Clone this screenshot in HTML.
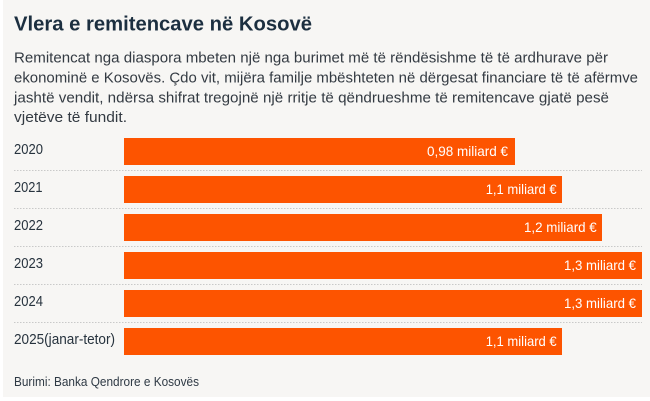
<!DOCTYPE html>
<html><head><meta charset="utf-8">
<style>
html,body{margin:0;padding:0;background:#ffffff;}
svg{display:block;}
text{font-family:"Liberation Sans","DejaVu Sans",sans-serif;}
</style></head>
<body>
<svg width="650" height="401" viewBox="0 0 650 401" xmlns="http://www.w3.org/2000/svg">
<rect x="0" y="0" width="650" height="401" fill="#ffffff"/>
<rect x="3" y="0" width="647" height="397" fill="#f7f6f4"/>
<text x="14" y="30.5" font-size="20" font-weight="bold" fill="#1c2f40" textLength="298" lengthAdjust="spacingAndGlyphs">Vlera e remitencave në Kosovë</text>
<g font-size="15" fill="#333a42">
<text x="14" y="62.5" textLength="594" lengthAdjust="spacingAndGlyphs">Remitencat nga diaspora mbeten një nga burimet më të rëndësishme të të ardhurave për</text>
<text x="14" y="82.5" textLength="624" lengthAdjust="spacingAndGlyphs">ekonominë e Kosovës. Çdo vit, mijëra familje mbështeten në dërgesat financiare të të afërmve</text>
<text x="14" y="102.5" textLength="595" lengthAdjust="spacingAndGlyphs">jashtë vendit, ndërsa shifrat tregojnë një rritje të qëndrueshme të remitencave gjatë pesë</text>
<text x="14" y="122" textLength="113" lengthAdjust="spacingAndGlyphs">vjetëve të fundit.</text>
</g>
<g stroke="#c9c9c9" stroke-width="1" stroke-dasharray="1.5 1.5">
<line x1="14" y1="170.5" x2="642" y2="170.5"/>
<line x1="14" y1="208.5" x2="642" y2="208.5"/>
<line x1="14" y1="246.5" x2="642" y2="246.5"/>
<line x1="14" y1="284.5" x2="642" y2="284.5"/>
<line x1="14" y1="322.5" x2="642" y2="322.5"/>
</g>
<g fill="#fd5400">
<rect x="124" y="138" width="391" height="27"/>
<rect x="124" y="176" width="438" height="27"/>
<rect x="124" y="214" width="478" height="27"/>
<rect x="124" y="252" width="518" height="27"/>
<rect x="124" y="290" width="518" height="27"/>
<rect x="124" y="328" width="438" height="27"/>
</g>
<g font-size="14.5" fill="#27333e">
<text x="14" y="154" textLength="29" lengthAdjust="spacingAndGlyphs">2020</text>
<text x="14" y="192" textLength="28.5" lengthAdjust="spacingAndGlyphs">2021</text>
<text x="14" y="230" textLength="29" lengthAdjust="spacingAndGlyphs">2022</text>
<text x="14" y="268" textLength="29" lengthAdjust="spacingAndGlyphs">2023</text>
<text x="14" y="306" textLength="29" lengthAdjust="spacingAndGlyphs">2024</text>
<text x="14" y="344" textLength="101" lengthAdjust="spacingAndGlyphs">2025(janar-tetor)</text>
</g>
<g font-size="14" fill="#ffffff">
<text x="427" y="156" textLength="81" lengthAdjust="spacingAndGlyphs">0,98 miliard €</text>
<text x="485.7" y="194" textLength="71" lengthAdjust="spacingAndGlyphs">1,1 miliard €</text>
<text x="524" y="232" textLength="72.7" lengthAdjust="spacingAndGlyphs">1,2 miliard €</text>
<text x="564" y="270" textLength="72" lengthAdjust="spacingAndGlyphs">1,3 miliard €</text>
<text x="564" y="308" textLength="72" lengthAdjust="spacingAndGlyphs">1,3 miliard €</text>
<text x="485.7" y="346" textLength="71" lengthAdjust="spacingAndGlyphs">1,1 miliard €</text>
</g>
<text x="14" y="386" font-size="13" fill="#2e3944" textLength="185" lengthAdjust="spacingAndGlyphs">Burimi: Banka Qendrore e Kosovës</text>
</svg>
</body></html>
